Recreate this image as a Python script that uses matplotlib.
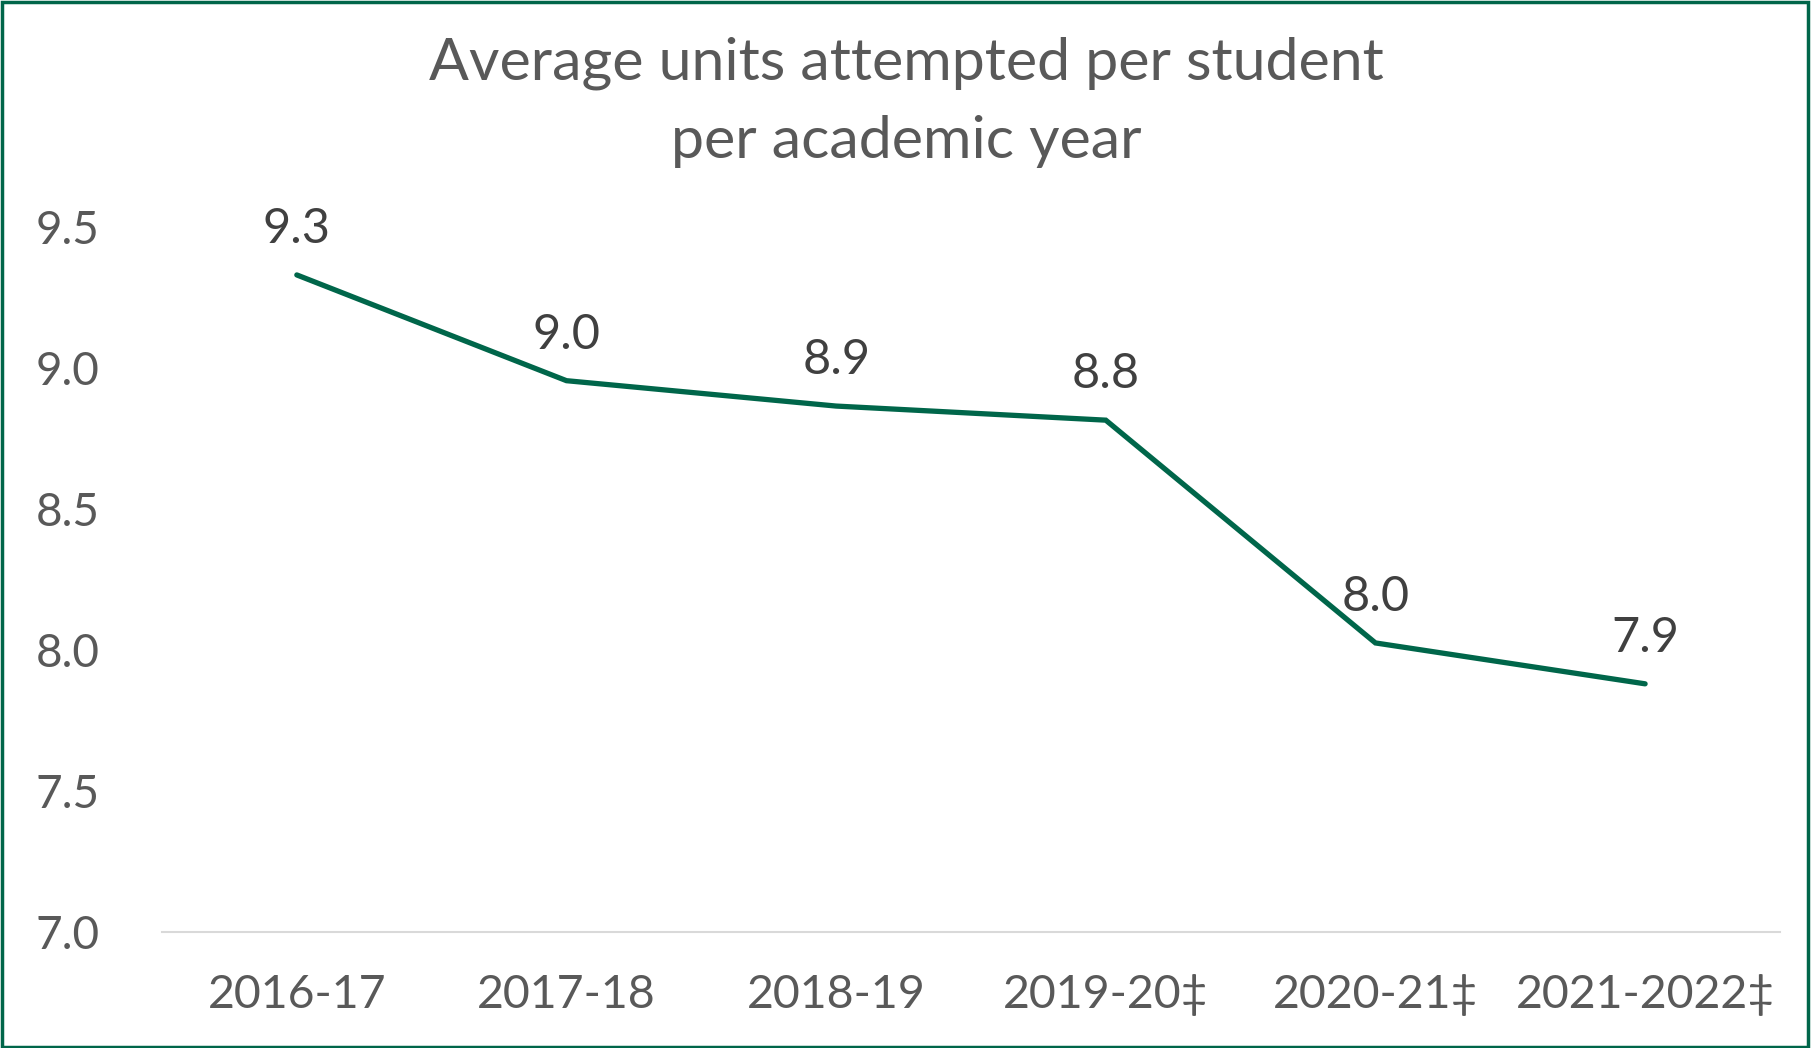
import numpy as np
import matplotlib.pyplot as plt
from matplotlib.patches import Rectangle

# Datos
years = ['2016-17', '2017-18', '2018-19', '2019-20\u2021', '2020-21\u2021', '2021-2022\u2021']
units = [9.33, 8.955, 8.865, 8.815, 8.025, 7.88]

# Colores
verde = '#00664A'
gris = '#595959'

plt.rcParams['font.family'] = ['Lato', 'DejaVu Sans']

fig = plt.figure(figsize=(18.12, 10.48), dpi=100)
ax = fig.add_axes([0.0894, 0.1107, 0.8929, 0.6727])

x = np.arange(len(years))
ax.plot(x, units, color=verde, linewidth=3.8, solid_capstyle='round', solid_joinstyle='miter')

# etiquetas de datos
for xi, v in zip(x, units):
    ax.annotate(f'{v:.1f}', (xi, v), xytext=(0, 33), textcoords='offset points',
                ha='center', va='center', fontsize=35, color='#404040')

ax.set_xlim(-0.5, len(years) - 0.5)
ax.set_ylim(7.0, 9.5)
ax.set_yticks(np.arange(7.0, 9.51, 0.5))
ax.set_yticklabels([f'{t:.1f}' for t in np.arange(7.0, 9.51, 0.5)])
ax.set_xticks(x)
ax.set_xticklabels(years)
ax.tick_params(axis='y', length=0, pad=45, labelsize=33, labelcolor=gris)
ax.tick_params(axis='x', length=0, pad=30, labelsize=33.5, labelcolor=gris)

for s in ['top', 'right', 'left']:
    ax.spines[s].set_visible(False)
ax.spines['bottom'].set_color('#D9D9D9')
ax.spines['bottom'].set_linewidth(1.5)

fig.text(0.5, 0.9026, 'Average units attempted per student\nper academic year',
         ha='center', va='center', fontsize=42.5, color=gris, linespacing=1.58)

# marco verde
fig.patches.append(Rectangle((0.001, 0.001), 0.997, 0.997, transform=fig.transFigure,
                             fill=False, edgecolor=verde, linewidth=2.5))

fig.savefig('out.png', dpi=100, facecolor='white')
